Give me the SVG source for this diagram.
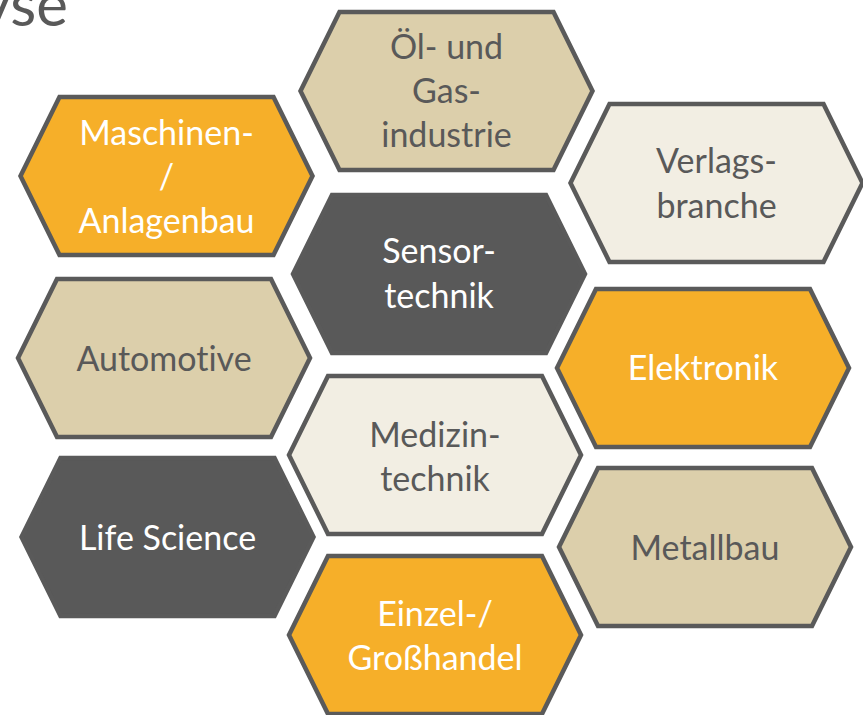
<svg xmlns="http://www.w3.org/2000/svg" width="863" height="715" viewBox="0 0 863 715">
<defs>
<style>
.hex{stroke:#5a5a5a;stroke-width:4.5;stroke-linejoin:miter}
.orange{fill:#f6af29}
.beige{fill:#dccfab}
.cream{fill:#f2eee3}
.dark{fill:#595959}
text{font-family:Lato,"Liberation Sans",sans-serif;font-size:34px;text-anchor:middle;font-variant-ligatures:none;font-feature-settings:"liga" 0}
.tw{fill:#ffffff}
.tg{fill:#595959}
</style>
<polygon id="hexshape" points="-146,0 -107,-79 107,-79 146,0 107,79 -107,79"/>
</defs>
<rect width="863" height="715" fill="#ffffff"/>
<text x="68" y="26" style="font-size:60px;text-anchor:end" class="tg">yse</text>
<g id="connectors"></g>
<g id="maschinen">
<use href="#hexshape" x="166.5" y="176" class="hex orange"/>
<text class="tw"><tspan x="166.5" y="145">Maschinen-</tspan><tspan x="166.5" y="189">/</tspan><tspan x="166.5" y="233">Anlagenbau</tspan></text>
</g>
<g id="oel">
<use href="#hexshape" x="446.5" y="91" class="hex beige"/>
<text class="tg"><tspan x="446.5" y="59">Öl- und</tspan><tspan x="446.5" y="103">Gas-</tspan><tspan x="446.5" y="147">industrie</tspan></text>
</g>
<g id="verlag">
<use href="#hexshape" x="716.5" y="183" class="hex cream"/>
<text class="tg"><tspan x="716.5" y="173">Verlags-</tspan><tspan x="716.5" y="218">branche</tspan></text>
</g>
<g id="automotive">
<use href="#hexshape" x="164" y="358" class="hex beige"/>
<text x="164" y="371" class="tg">Automotive</text>
</g>
<g id="sensor">
<use href="#hexshape" x="439" y="274" class="hex dark"/>
<text class="tw"><tspan x="439" y="263">Sensor-</tspan><tspan x="439" y="308">technik</tspan></text>
</g>
<g id="elektronik">
<use href="#hexshape" x="703" y="368" class="hex orange"/>
<text x="703" y="380" class="tw">Elektronik</text>
</g>
<g id="medizin">
<use href="#hexshape" x="435" y="455" class="hex cream"/>
<text class="tg"><tspan x="435" y="447">Medizin-</tspan><tspan x="435" y="491">technik</tspan></text>
</g>
<g id="lifescience">
<use href="#hexshape" x="167.5" y="537" class="hex dark"/>
<text x="167.5" y="550" class="tw">Life Science</text>
</g>
<g id="metallbau">
<use href="#hexshape" x="705" y="547" class="hex beige"/>
<text x="705" y="560" class="tg">Metallbau</text>
</g>
<g id="handel">
<use href="#hexshape" x="435" y="635" class="hex orange"/>
<text class="tw"><tspan x="435" y="626">Einzel-/</tspan><tspan x="435" y="670">Großhandel</tspan></text>
</g>
</svg>
